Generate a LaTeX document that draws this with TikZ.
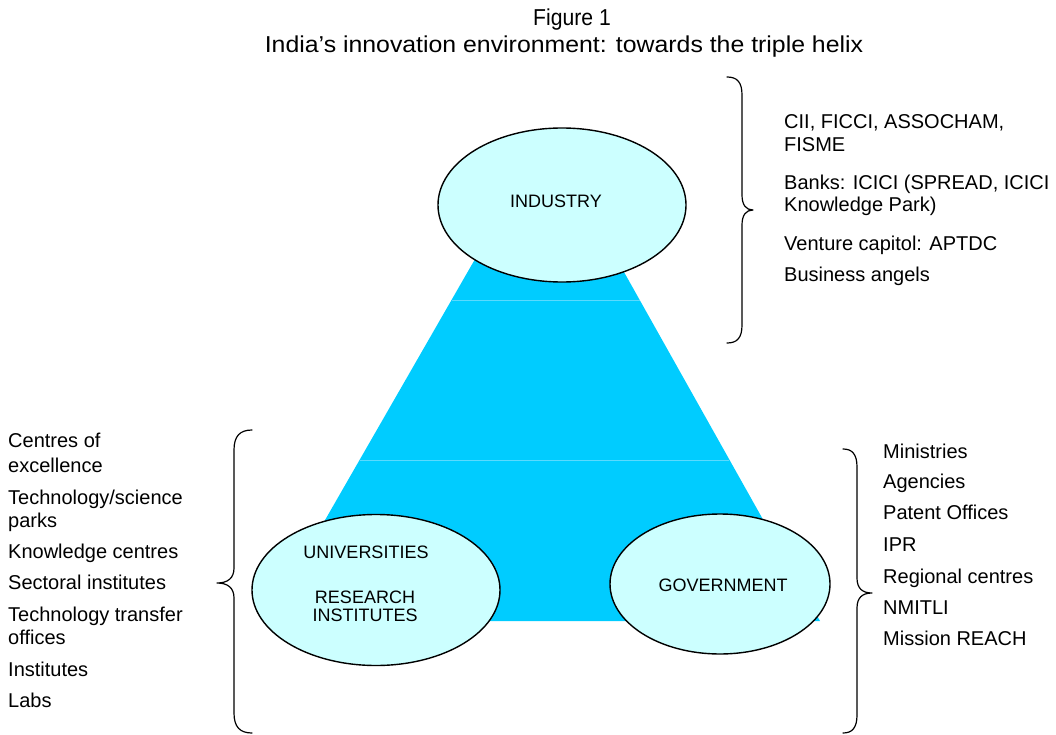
\documentclass[tikz,border=0pt]{standalone}
\usepackage{fontspec}
\setmainfont{Liberation Sans}
\usetikzlibrary{shapes.geometric}
\definecolor{trap}{RGB}{0,204,255}
\definecolor{trapline}{RGB}{90,218,255}
\definecolor{ellfill}{RGB}{204,255,255}
\tikzset{
  ell/.style={ellipse,draw=black,line width=1.4pt,fill=ellfill,inner sep=0pt},
  etext/.style={inner sep=0pt,anchor=base,font=\fontsize{18}{21}\selectfont},
  ltext/.style={inner sep=0pt,anchor=base west,font=\fontsize{20}{23}\selectfont},
  ttext/.style={inner sep=0pt,anchor=base,font=\fontsize{23}{26}\selectfont},
  brace/.style={draw=black,line width=1.2pt,line cap=round,line join=round}
}
\begin{document}
\begin{tikzpicture}[x=1pt,y=-1pt]
\useasboundingbox (0,0) rectangle (1056,735);
% title
\node[ttext] (t1) at (572,26) {\scalebox{0.92}[1]{Figure 1}};
\node[ttext] (t2) at (564,53) {\scalebox{1.08}[1]{India’s innovation environment: towards the triple helix}};
% trapezoid
\fill[trap] (486,240) -- (606,240) -- (820,621) -- (267,621) -- cycle;
\draw[trapline,line width=0.7pt] (451.5,300) -- (639.5,300);
\draw[trapline,line width=0.7pt] (359.5,460) -- (729,460);
% ellipses
\node[ell,minimum width=248pt,minimum height=154pt] (ind) at (562,205) {};
\node[ell,minimum width=248pt,minimum height=151pt] (uni) at (376,590) {};
\node[ell,minimum width=220pt,minimum height=140pt] (gov) at (720,584) {};
\node[etext] (indt) at (556,207.5) {INDUSTRY};
\node[etext] (unit) at (366,558) {UNIVERSITIES};
\node[etext] (rest) at (365,603) {RESEARCH};
\node[etext] (inst) at (365,621) {INSTITUTES};
\node[etext] (govt) at (723,591) {GOVERNMENT};
% braces
\draw[brace] (727,77) .. controls (737,77) and (742,82) .. (742,95) -- (742,195)
  .. controls (742,205) and (746,210) .. (753,210)
  .. controls (746,210) and (742,215) .. (742,225) -- (742,325)
  .. controls (742,338) and (737,343) .. (727,343);
\draw[brace] (252,430) .. controls (240,430) and (234,436) .. (234,450) -- (234,568)
  .. controls (234,578) and (228,583) .. (217,583)
  .. controls (228,583) and (234,588) .. (234,598) -- (234,713)
  .. controls (234,727) and (240,733) .. (252,733);
\draw[brace] (843,449) .. controls (852,449) and (857,454) .. (857,467) -- (857,578)
  .. controls (857,588) and (862,593) .. (872,593)
  .. controls (862,593) and (857,598) .. (857,608) -- (857,715)
  .. controls (857,728) and (852,733) .. (843,733);
% industry list
\node[ltext] (i1) at (784,129) {CII, FICCI, ASSOCHAM,};
\node[ltext] (i2) at (784,152) {FISME};
\node[ltext] (i3) at (784,190) {Banks: ICICI (SPREAD, ICICI};
\node[ltext] (i4) at (784,212) {Knowledge Park)};
\node[ltext] (i5) at (784,250) {Venture capitol: APTDC};
\node[ltext] (i6) at (784,281) {Business angels};
% universities list
\node[ltext] (u1) at (8,447) {Centres of};
\node[ltext] (u2) at (8,472) {excellence};
\node[ltext] (u3) at (8,504) {Technology/science};
\node[ltext] (u4) at (8,527) {parks};
\node[ltext] (u5) at (8,558) {Knowledge centres};
\node[ltext] (u6) at (8,589) {Sectoral institutes};
\node[ltext] (u7) at (8,621) {Technology transfer};
\node[ltext] (u8) at (8,644) {offices};
\node[ltext] (u9) at (8,676) {Institutes};
\node[ltext] (u10) at (8,707) {Labs};
% government list
\node[ltext] (g1) at (883,458) {Ministries};
\node[ltext] (g2) at (883,488) {Agencies};
\node[ltext] (g3) at (883,519) {Patent Offices};
\node[ltext] (g4) at (883,551) {IPR};
\node[ltext] (g5) at (883,583) {Regional centres};
\node[ltext] (g6) at (883,614) {NMITLI};
\node[ltext] (g7) at (883,645) {Mission REACH};
\end{tikzpicture}
\end{document}
